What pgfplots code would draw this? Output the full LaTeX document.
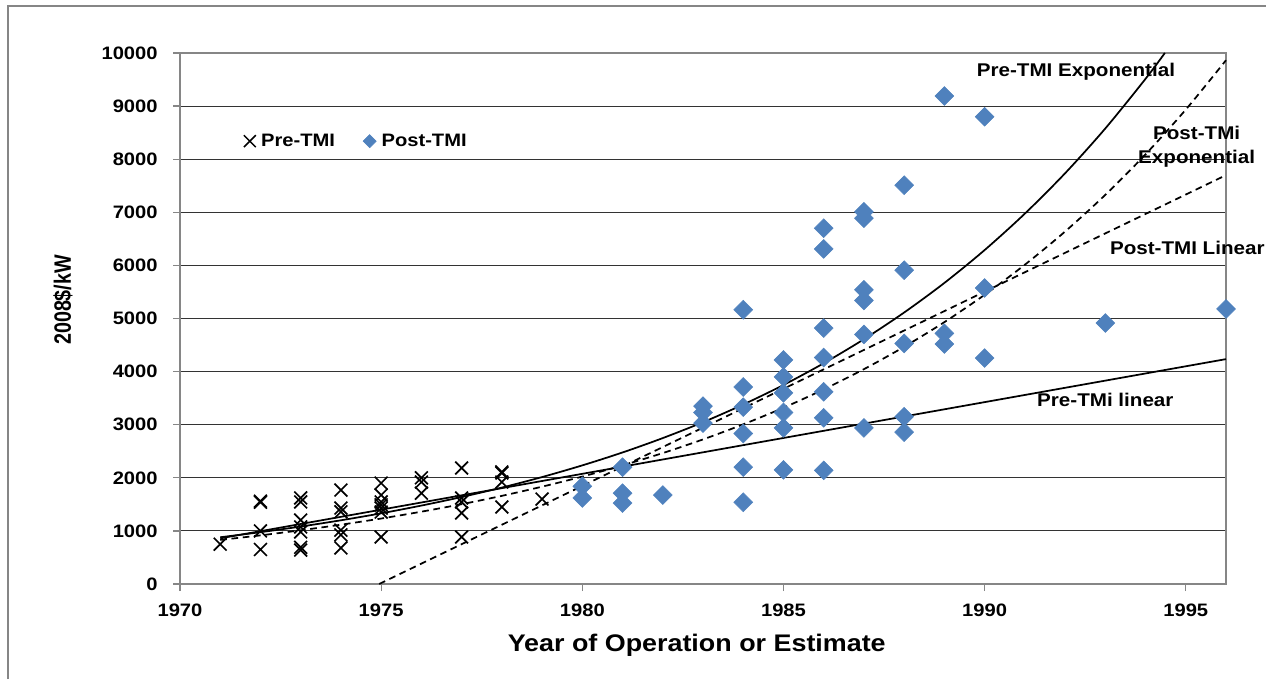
\documentclass[border=0pt]{standalone}
\usepackage{pgfplots}
\pgfplotsset{compat=1.18}
\usepackage{fontspec}
\usepackage{graphicx}
\setmainfont{Liberation Sans}[FakeStretch=1.12]
\newfontfamily\ylabfont{Liberation Sans}
\definecolor{diam}{RGB}{79,129,189}
\definecolor{axgray}{RGB}{134,134,134}

\pgfplotstableread{
x y
1971 750
1972 1540
1972 1560
1972 1000
1972 650
1973 1620
1973 1545
1973 1205
1973 1075
1973 980
1973 690
1973 640
1974 1770
1974 1430
1974 1360
1974 1015
1974 925
1974 680
1975 1900
1975 1675
1975 1545
1975 1490
1975 1430
1975 1355
1975 885
1976 2000
1976 1920
1976 1710
1977 2185
1977 1620
1977 1545
1977 1337
1977 885
1978 2110
1978 2090
1978 1920
1978 1450
1979 1600
}\pretmi

\pgfplotstableread{
x y
1980 1840
1980 1620
1981 2200
1981 1710
1981 1525
1982 1675
1983 3350
1983 3230
1983 3030
1984 5165
1984 3710
1984 3330
1984 2835
1984 2200
1984 1540
1985 4220
1985 3900
1985 3600
1985 3230
1985 2940
1985 2150
1986 6700
1986 6310
1986 4820
1986 4265
1986 3620
1986 3130
1986 2140
1987 7010
1987 6890
1987 5540
1987 5340
1987 4700
1987 2940
1988 7510
1988 5910
1988 4530
1988 3150
1988 2860
1989 9190
1989 4720
1989 4520
1990 8800
1990 5575
1990 4255
1993 4915
1996 5180
}\posttmi

\begin{document}
\begin{tikzpicture}
\useasboundingbox (0,0) rectangle (949.5pt,509.25pt);
\draw[axgray, line width=1pt] (6pt,0) -- (6pt,504.75pt) -- (949.5pt,504.75pt);
\begin{axis}[
  at={(135pt,71.25pt)}, anchor=south west,
  scale only axis, width=784.5pt, height=398.25pt,
  xmin=1970, xmax=1996, ymin=0, ymax=10000,
  xtick={1970,1975,...,1995}, ytick={0,1000,...,10000},
  scaled ticks=false,
  /pgf/number format/1000 sep={},
  /pgf/number format/assume math mode=true,
  ymajorgrids, grid style={black!80, line width=0.7pt},
  axis line style={axgray, line width=1.2pt},
  tick align=outside, major tick length=5.25pt,
  tick style={axgray, line width=0.9pt},
  xtick pos=lower, ytick pos=left,
  tick label style={font=\fontsize{13.5}{15}\selectfont\bfseries},
  yticklabel style={xshift=-8pt},
  xticklabel style={yshift=-6pt},
  xlabel={Year of Operation or Estimate},
  xlabel style={font=\fontsize{18}{21}\selectfont\bfseries, at={(axis description cs:0.494,-0.115)}, anchor=center},
  ylabel={\scalebox{1}[1.2]{2008\$/kW}},
  ylabel style={font=\fontsize{14.8}{17}\selectfont\ylabfont\bfseries, at={(axis description cs:-0.112,0.535)}, anchor=center},
  clip=false,
  legend style={draw=none, fill=none, at={(0.057,0.834)}, anchor=west,
    legend columns=2, font=\fontsize{13.5}{16}\selectfont\bfseries,
    /tikz/every odd column/.append style={column sep=3pt},
    /tikz/every even column/.append style={column sep=20pt},
    nodes={inner sep=1pt}},
  legend cell align=left,
]
\addplot[only marks, mark=x, mark size=6.8pt, line width=1.25pt, black,
  legend image post style={mark size=6.3pt, line width=1.1pt}] table[x=x,y=y] {\pretmi};
\addlegendentry{Pre-TMI}
\addplot[only marks, mark=square*, mark size=5pt, mark options={rotate=45, fill=diam, draw=diam},
  legend image post style={mark size=3.5pt}] table[x=x,y=y] {\posttmi};
\addlegendentry{Post-TMI}

% Pre-TMI linear
\addplot[black, line width=1.3pt, forget plot] coordinates {(1971,860) (1996,4235)};
% Pre-TMI exponential
\addplot[black, line width=1.3pt, smooth, forget plot] coordinates {
(1971,880) (1972,976) (1973,1082) (1974,1200) (1975,1331) (1976,1477) (1977,1638)
(1978,1816) (1979,2014) (1980,2234) (1981,2477) (1982,2748) (1983,3047) (1984,3380)
(1985,3748) (1986,4157) (1987,4610) (1988,5113) (1989,5670) (1990,6289) (1991,6975)
(1992,7735) (1993,8579) (1994,9514) (1994.48,10000)};
% Post-TMI linear
\addplot[black, line width=1.3pt, dash pattern=on 5pt off 3.5pt, forget plot] coordinates {(1974.95,0) (1996,7700)};
% Post-TMI exponential
\addplot[black, line width=1.3pt, dash pattern=on 5pt off 3.5pt, smooth, forget plot] coordinates {
(1971,830) (1972,916) (1973,1012) (1974,1117) (1975,1233) (1976,1362) (1977,1503)
(1978,1660) (1979,1833) (1980,2023) (1981,2234) (1982,2466) (1983,2723) (1984,3007)
(1985,3319) (1986,3665) (1987,4046) (1988,4467) (1989,4932) (1990,5446) (1991,6013)
(1992,6638) (1993,7329) (1994,8092) (1995,8934) (1996,9864)};

\node[font=\fontsize{13.8}{16}\selectfont\bfseries] at (axis cs:1992.27,9642) {Pre-TMI Exponential};
\node[font=\fontsize{13.8}{18}\selectfont\bfseries, align=center] at (axis cs:1995.27,8230) {Post-TMi\\Exponential};
\node[font=\fontsize{13.8}{16}\selectfont\bfseries, anchor=west] at (axis cs:1993.0,6328) {Post-TMI Linear};
\node[font=\fontsize{13.8}{16}\selectfont\bfseries] at (axis cs:1993.0,3465) {Pre-TMi linear};
\end{axis}
\end{tikzpicture}
\end{document}
